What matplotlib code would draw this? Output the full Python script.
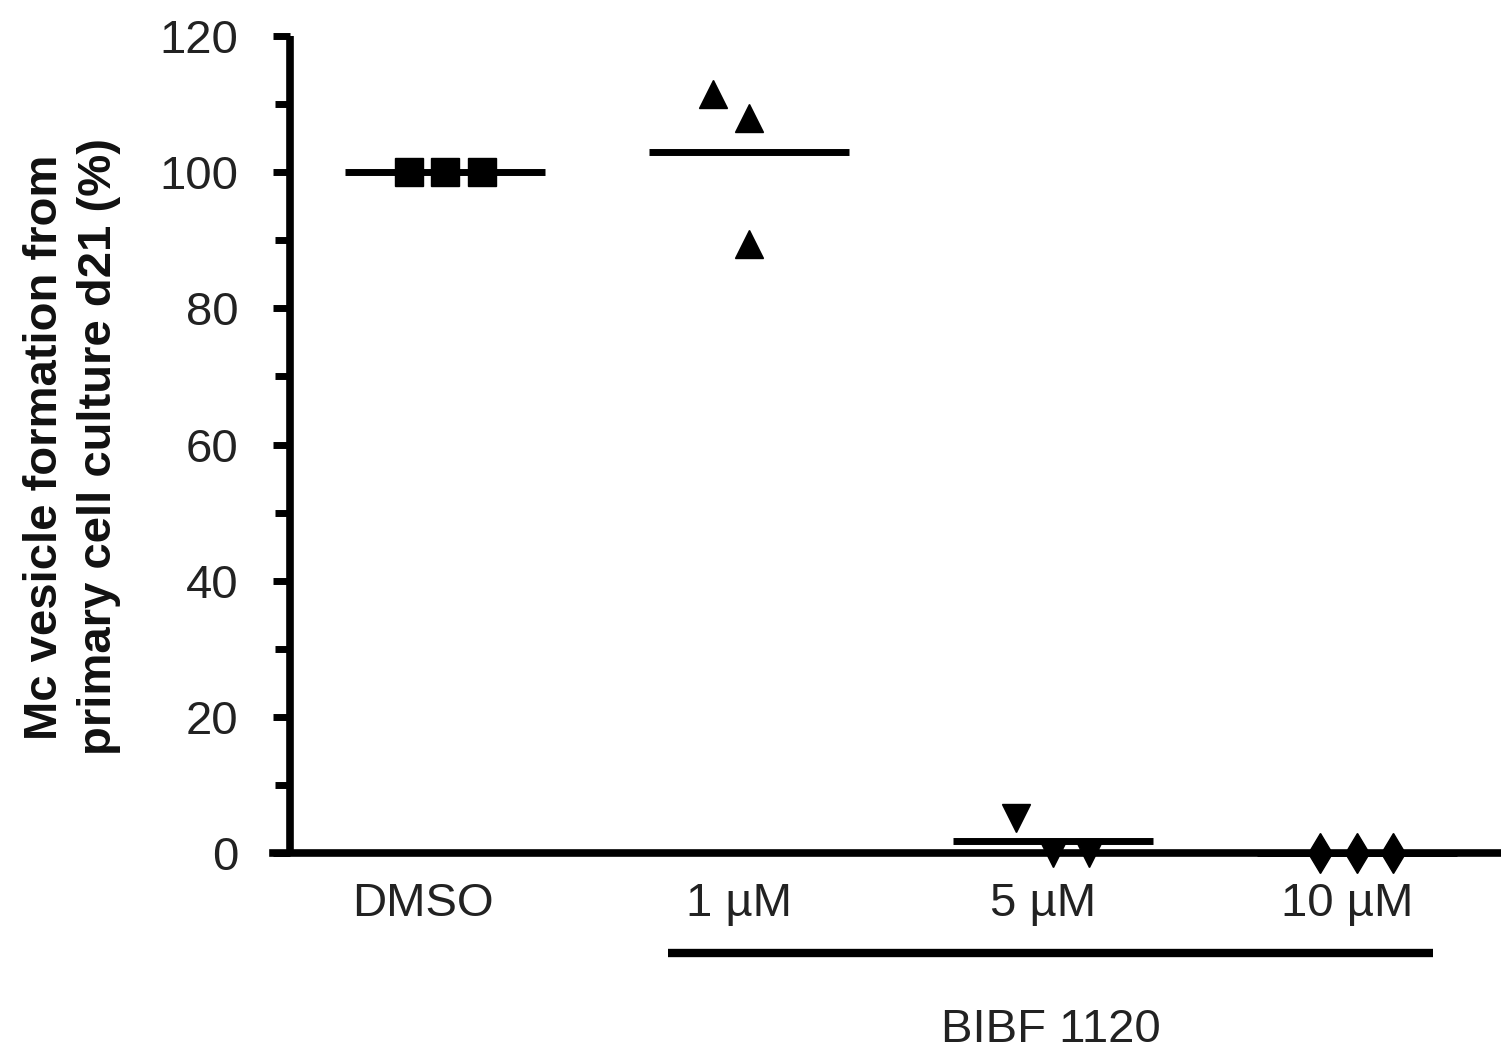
import numpy as np
import matplotlib
matplotlib.use("Agg")
from matplotlib import pyplot as plt
from matplotlib.transforms import ScaledTranslation, blended_transform_factory

plt.rcParams['font.family'] = ['Liberation Sans', 'DejaVu Sans']

# группы и значения (% от контроля DMSO)
groups = ['DMSO', '1 µM', '5 µM', '10 µM']
dmso = [100.0, 100.0, 100.0]
bibf_1um = [111.5, 108.0, 89.5]
bibf_5um = [5.2, 0.0, 0.0]
bibf_10um = [0.0, 0.0, 0.0]
series = [dmso, bibf_1um, bibf_5um, bibf_10um]
markers = ['s', '^', 'v', 'd']
# горизонтальный разброс точек внутри группы
offsets = [[-0.12, 0.0, 0.12],
           [-0.12, 0.0, 0.0],
           [-0.12, 0.0, 0.12],
           [-0.12, 0.0, 0.12]]

fig = plt.figure(figsize=(15.01, 10.54), dpi=100)
ax = fig.add_axes([273 / 1501, 201 / 1054, 1228 / 1501, 817 / 1054])

pos = np.arange(1, len(groups) + 1)
for x, vals, m, off in zip(pos, series, markers, offsets):
    ax.plot(x + np.array(off), vals, linestyle='none', marker=m, ms=20,
            color='black', clip_on=False, zorder=3)
    mean = np.mean(vals)
    ax.plot([x - 0.33, x + 0.33], [mean, mean], color='black', lw=5,
            solid_capstyle='butt', clip_on=False, zorder=2)

ax.set_xlim(0.434, 4.474)
ax.set_ylim(0, 120)

for s in ['top', 'right']:
    ax.spines[s].set_visible(False)
ax.spines['left'].set_position(('data', 0.49))
ax.spines['left'].set_linewidth(5.5)
ax.spines['bottom'].set_linewidth(5.5)
ax.spines['left'].set_capstyle('butt')

ax.set_yticks(np.arange(0, 121, 20))
ax.set_yticks(np.arange(10, 120, 20), minor=True)
ax.tick_params(axis='y', which='major', length=12, width=5, pad=25,
               labelsize=34, labelcolor='#222222')
ax.tick_params(axis='y', which='minor', length=11, width=5)

ax.set_xticks(pos)
ax.set_xticklabels(groups)
ax.tick_params(axis='x', length=0, pad=21, labelsize=34, labelcolor='#222222')
shifts = [-0.22, -0.10, -0.10, -0.10]
for lbl, dx in zip(ax.get_xticklabels(), shifts):
    lbl.set_transform(lbl.get_transform() + ScaledTranslation(dx, 0, fig.dpi_scale_trans))

ax.text(-0.1637, 0.497, 'Mc vesicle formation from\nprimary cell culture d21 (%)',
        transform=ax.transAxes, rotation=90, ha='center', va='center',
        ma='center', fontsize=34, fontweight='bold', linespacing=1.3,
        color='#111111')

# скобка под концентрациями BIBF 1120
tr = blended_transform_factory(ax.transData, ax.transAxes)
ax.plot([1.734, 4.25], [-0.1224, -0.1224], color='black', lw=6,
        solid_capstyle='butt', transform=tr, clip_on=False)
ax.text((1.734 + 4.25) / 2, -0.2167, 'BIBF 1120', transform=tr, ha='center',
        va='center', fontsize=34, color='#222222')

fig.savefig('out.png', dpi=100)
